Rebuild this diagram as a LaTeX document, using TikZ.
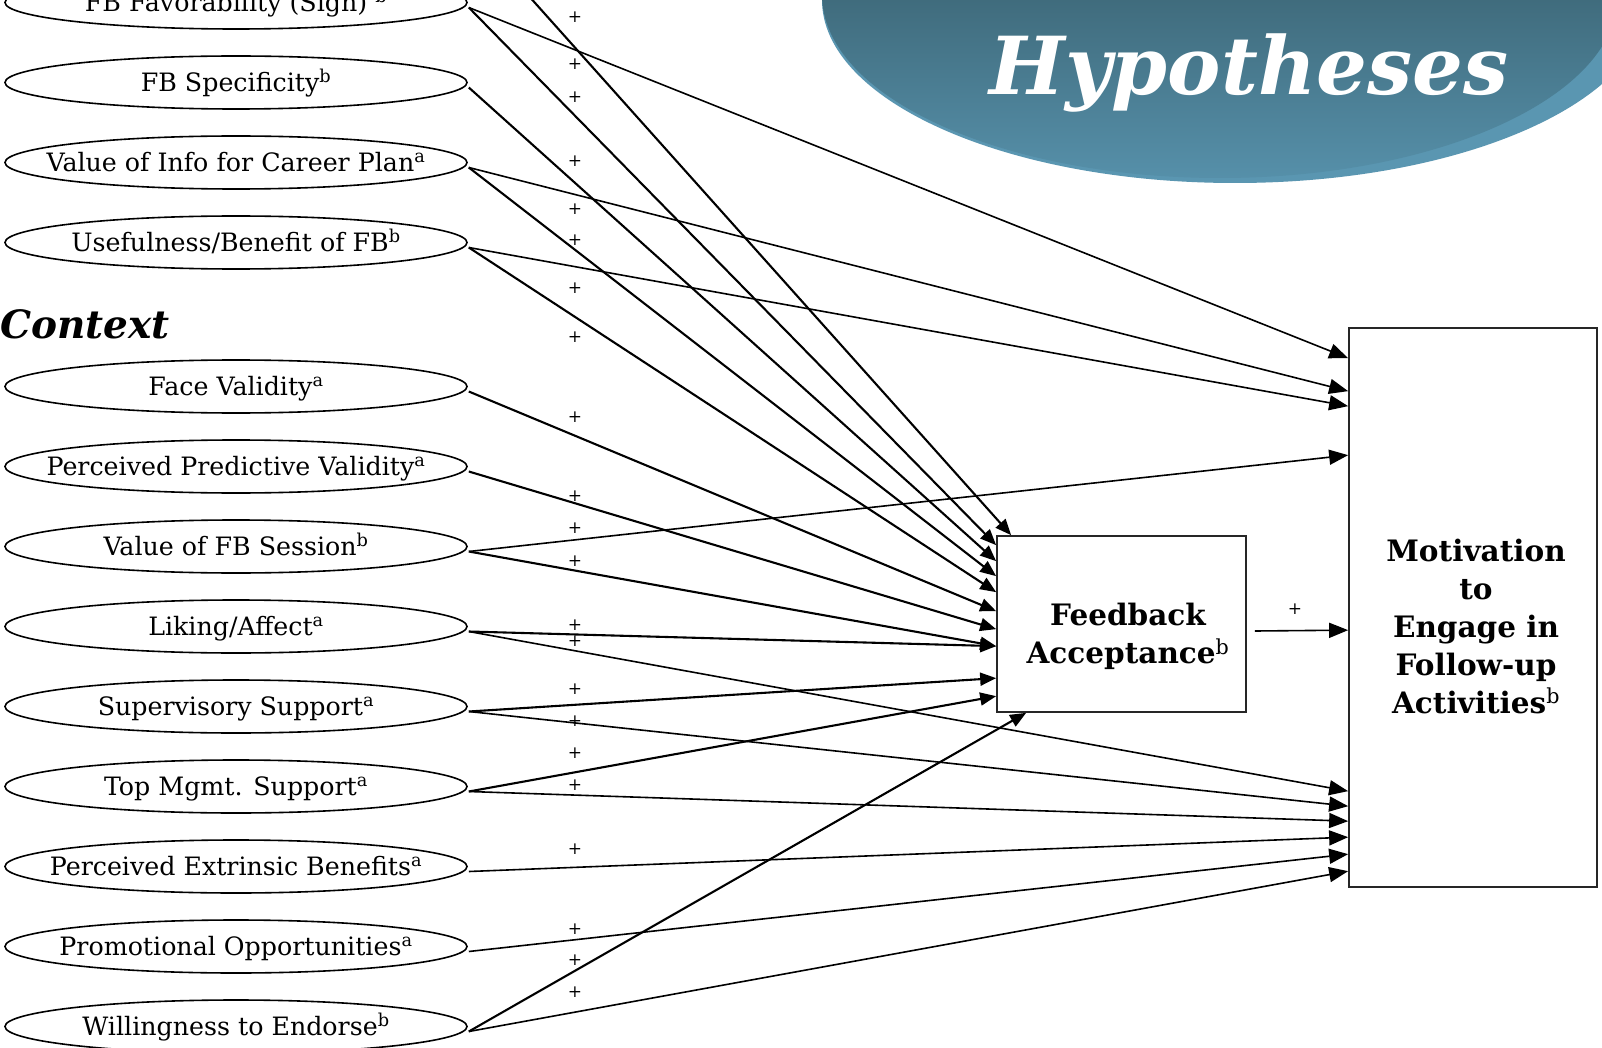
\documentclass[tikz,border=0pt]{standalone}
\usepackage{fontspec}
\setmainfont{DejaVu Serif}
\usetikzlibrary{shapes.geometric,arrows.meta,calc}
\definecolor{rim}{HTML}{5A96B1}
\definecolor{blobtop}{HTML}{406C7D}
\definecolor{blobbot}{HTML}{5690AA}
\newcommand\ovtxt[1]{\makebox[0pt]{#1}}
\begin{document}
\begin{tikzpicture}[x=1pt,y=-1pt,
  oval/.style={ellipse,draw,line width=1.6pt,minimum width=462pt,minimum height=53pt,inner sep=0pt,
    font=\fontsize{25.3}{28}\selectfont,text height=18pt,text depth=0pt},
  box/.style={draw=black!85,line width=1.7pt,inner sep=0pt},
  tofa/.style={line width=2.1pt,-{Triangle[length=16pt,width=13pt]}},
  tomot/.style={line width=1.6pt,-{Triangle[length=19pt,width=15pt]}},
  pluslbl/.style={inner sep=0pt,font=\fontsize{17}{17}\selectfont},
  boxtxt/.style={font=\fontsize{29.5}{38}\selectfont\bfseries,align=center,inner sep=0pt},
]
\useasboundingbox (0,0) rectangle (1602,1048);
\fill[white] (0,0) rectangle (1602,1048);
\clip (0,0) rectangle (1602,1048);

% title blob
\fill[rim] (1235,0) ellipse [x radius=413, y radius=183];
\begin{scope}
  \clip (1220,-5) ellipse [x radius=398, y radius=183];
  \shade[top color=blobtop,bottom color=blobbot] (800,0) rectangle (1602,180);
\end{scope}
\node[anchor=base,text=white,inner sep=0pt,font=\fontsize{80}{80}\selectfont\bfseries\itshape] (hyp) at (1249,95) {Hypotheses};

\node[anchor=base west,inner sep=0pt,font=\fontsize{39}{39}\selectfont\bfseries\itshape] (ctx) at (0,338) {Context};

% predictors
\coordinate (e0) at (468,-72);
\node[oval] (e1) at (236,2.5) {\ovtxt{FB Favorability (Sign) \textsuperscript{b}}};
\node[oval] (e2) at (236,82.5) {\ovtxt{FB Specificity\textsuperscript{b}}};
\node[oval] (e3) at (236,162.5) {\ovtxt{Value of Info for Career Plan\textsuperscript{a}}};
\node[oval] (e4) at (236,242.5) {\ovtxt{Usefulness/Benefit of FB\textsuperscript{b}}};
\node[oval] (e5) at (236,386.5) {\ovtxt{Face Validity\textsuperscript{a}}};
\node[oval] (e6) at (236,466.5) {\ovtxt{Perceived Predictive Validity\textsuperscript{a}}};
\node[oval] (e7) at (236,546.5) {\ovtxt{Value of FB Session\textsuperscript{b}}};
\node[oval] (e8) at (236,626.5) {\ovtxt{Liking/Affect\textsuperscript{a}}};
\node[oval] (e9) at (236,706.5) {\ovtxt{Supervisory Support\textsuperscript{a}}};
\node[oval] (e10) at (236,786.5) {\ovtxt{Top Mgmt. Support\textsuperscript{a}}};
\node[oval] (e11) at (236,866.5) {\ovtxt{Perceived Extrinsic Benefits\textsuperscript{a}}};
\node[oval] (e12) at (236,946.5) {\ovtxt{Promotional Opportunities\textsuperscript{a}}};
\node[oval] (e13) at (236,1026.5) {\ovtxt{Willingness to Endorse\textsuperscript{b}}};

% outcome boxes
\node[box,minimum width=249pt,minimum height=176pt] (fa) at (1121.5,624) {};
\node[boxtxt] (fatxt) at (1128,636) {Feedback\\Acceptance{\mdseries\textsuperscript{b}}};
\node[box,minimum width=248pt,minimum height=559pt] (mot) at (1473,607.5) {};
\node[boxtxt] (mottxt) at (1476,626) {Motivation\\to\\Engage in\\Follow-up\\Activities{\mdseries\textsuperscript{b}}};

% arrows to Feedback Acceptance
\draw[tofa] (e0) -- ($(fa.north west)+(15,0)$);
\draw[tofa] ($(e1.east)+(1,5)$) -- ($(fa.north west)+(0,10)$);
\draw[tofa] ($(e2.east)+(1,5)$) -- ($(fa.north west)+(0,26)$);
\draw[tofa] ($(e3.east)+(1,5)$) -- ($(fa.north west)+(0,41)$);
\draw[tofa] ($(e4.east)+(1,5)$) -- ($(fa.north west)+(0,57)$);
\draw[tofa] ($(e5.east)+(1,5)$) -- ($(fa.north west)+(0,76)$);
\draw[tofa] ($(e6.east)+(1,5)$) -- ($(fa.north west)+(0,94)$);
\draw[tofa] ($(e7.east)+(1,5)$) -- ($(fa.north west)+(0,111)$);
\draw[tofa] ($(e8.east)+(1,5)$) -- ($(fa.north west)+(0,111)$);
\draw[tofa] ($(e9.east)+(1,5)$) -- ($(fa.north west)+(0,143)$);
\draw[tofa] ($(e10.east)+(1,5)$) -- ($(fa.north west)+(0,161)$);
\draw[tofa] ($(e13.east)+(1,5)$) -- ($(fa.south west)+(30,0)$);

% arrows to Motivation
\draw[tomot] ($(e1.east)+(1,5)$) -- ($(mot.north west)+(0,31)$);
\draw[tomot] ($(e3.east)+(1,5)$) -- ($(mot.north west)+(0,64)$);
\draw[tomot] ($(e4.east)+(1,5)$) -- ($(mot.north west)+(0,79)$);
\draw[tomot] ($(e7.east)+(1,5)$) -- ($(mot.north west)+(0,128)$);
\draw[tomot] ($(e8.east)+(1,5)$) -- ($(mot.north west)+(0,464)$);
\draw[tomot] ($(e9.east)+(1,5)$) -- ($(mot.north west)+(0,479)$);
\draw[tomot] ($(e10.east)+(1,5)$) -- ($(mot.north west)+(0,494)$);
\draw[tomot] ($(e11.east)+(1,5)$) -- ($(mot.north west)+(0,510)$);
\draw[tomot] ($(e12.east)+(1,5)$) -- ($(mot.north west)+(0,527)$);
\draw[tomot] ($(e13.east)+(1,5)$) -- ($(mot.north west)+(0,544)$);
\draw[tomot] ($(fa.east)+(8,7)$) -- ($(mot.north west)+(0,303)$);

% plus signs
\foreach \n/\yy in {1/17,2/64,3/97,4/161,5/209,6/240,7/288,8/337,9/417,10/496,11/528,12/561,13/625,14/641,15/689,16/721,17/753,18/785,19/849,20/929,21/960,22/992}
  \node[pluslbl] (p\n) at (575,\yy) {+};
\node[pluslbl] (p23) at (1295,609) {+};
\end{tikzpicture}
\end{document}
